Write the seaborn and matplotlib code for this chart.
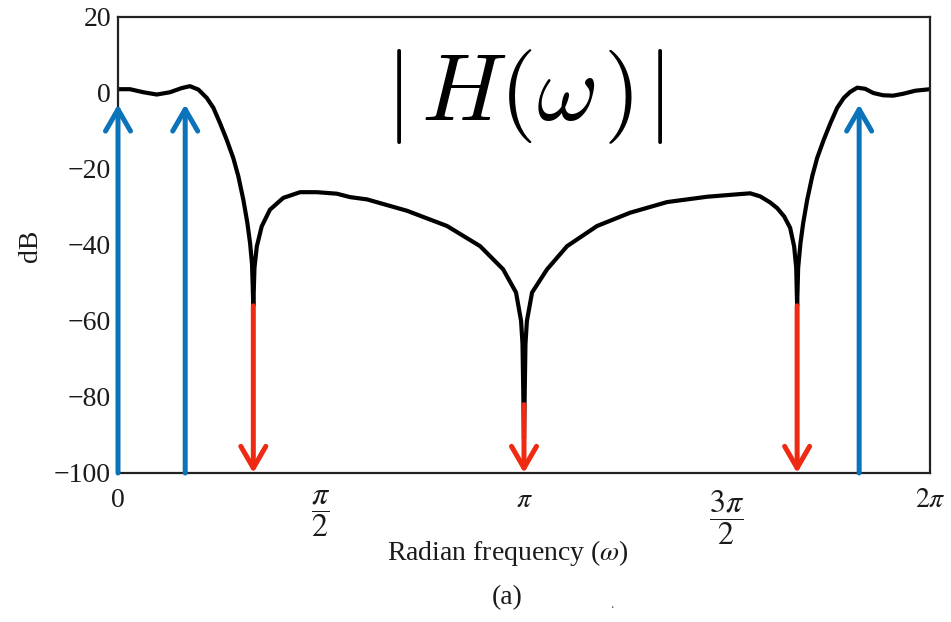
import numpy as np
import matplotlib
matplotlib.use("Agg")
import matplotlib.pyplot as plt
import seaborn as sns
import pandas as pd

# ---- data ----
omega_rad = [0.000, 0.093, 0.196, 0.300, 0.402, 0.493, 0.557, 0.622, 0.687, 0.738,
             0.789, 0.841, 0.892, 0.931, 0.970, 1.001, 1.022, 1.037, 1.047, 1.056,
             1.074, 1.112, 1.176, 1.279, 1.409, 1.538, 1.693, 1.796, 1.927, 2.237,
             2.546, 2.802, 2.980, 3.080, 3.119, 3.130, 3.1416, 3.153, 3.164, 3.204,
             3.320, 3.475, 3.707, 3.963, 4.249, 4.559, 4.814, 4.892, 4.969, 5.046,
             5.101, 5.155, 5.201, 5.232, 5.248, 5.255, 5.263, 5.281, 5.302, 5.333,
             5.372, 5.410, 5.461, 5.513, 5.565, 5.616, 5.666, 5.720, 5.782, 5.844,
             5.921, 5.998, 6.076, 6.169, 6.283]
mag_db = [1.0, 1.0, 0.2, -0.4, 0.2, 1.3, 1.8, 0.9, -1.3, -3.9,
          -7.9, -12.3, -17.1, -21.9, -28.1, -34.2, -39.5, -45.0, -56.0, -46.0,
          -40.4, -35.1, -30.7, -27.6, -26.1, -26.1, -26.5, -27.4, -28.0, -31.0,
          -35.0, -40.3, -46.4, -52.5, -60.0, -66.0, -91.0, -66.0, -60.0, -52.5,
          -46.4, -40.3, -35.0, -31.5, -28.7, -27.3, -26.6, -26.4, -27.2, -28.8,
          -30.3, -32.5, -35.5, -40.4, -46.0, -56.0, -46.0, -39.5, -34.2, -28.1,
          -21.9, -17.1, -12.3, -7.9, -3.9, -1.3, 0.3, 1.4, 1.1, 0.0,
          -0.6, -0.7, -0.2, 0.6, 1.0]

up_arrow_freqs = [0.0, 0.52, 5.735]
up_arrow_top_db = [-3.0, -3.0, -3.0]
down_arrow_freqs = [1.047, np.pi, 5.255]
down_arrow_start_db = [-56.0, -82.0, -56.0]

x_ticks = [0, np.pi / 2, np.pi, 3 * np.pi / 2, 2 * np.pi]
x_tick_labels = ["0", r"$\dfrac{\pi}{2}$", r"$\pi$", r"$\dfrac{3\pi}{2}$", r"$2\pi$"]
y_ticks = [-100, -80, -60, -40, -20, 0, 20]

df = pd.DataFrame({"omega": omega_rad, "db": mag_db})

sns.set_theme(style="white")
plt.rcParams["font.family"] = ["Liberation Serif", "DejaVu Serif"]
plt.rcParams["mathtext.fontset"] = "stix"

fig = plt.figure(figsize=(9.51, 6.22), dpi=100)
ax = fig.add_axes([118 / 951, 1 - 473 / 622, (930 - 118) / 951, (473 - 17) / 622])

sns.lineplot(data=df, x="omega", y="db", ax=ax, color="black", lw=3.0,
             sort=False, estimator=None)

blue = "#0A73BA"
red = "#EE2A12"
style = "->,head_length=1.3,head_width=0.75"
for f, top in zip(up_arrow_freqs, up_arrow_top_db):
    ax.annotate("", xy=(f, top), xytext=(f, -100),
                arrowprops=dict(arrowstyle=style, color=blue, lw=3.6,
                                shrinkA=0, shrinkB=0),
                annotation_clip=False, zorder=5)
for f, start in zip(down_arrow_freqs, down_arrow_start_db):
    ax.annotate("", xy=(f, -100), xytext=(f, start),
                arrowprops=dict(arrowstyle=style, color=red, lw=3.6,
                                shrinkA=0, shrinkB=0),
                annotation_clip=False, zorder=5)

ax.set_xlim(0, 2 * np.pi)
ax.set_ylim(-100, 20)
ax.set_xticks(x_ticks)
ax.set_xticklabels(x_tick_labels)
ax.set_yticks(y_ticks)
ax.tick_params(axis="both", direction="in", length=13, width=1.5, color="#222222",
               labelsize=20, labelcolor="#1a1a1a")
ax.tick_params(axis="y", pad=5)
ax.tick_params(axis="x", pad=11)
for lbl in ax.get_xticklabels():
    if "frac" in lbl.get_text():
        lbl.set_fontsize(23)
for s in ax.spines.values():
    s.set_color("#222222")
    s.set_linewidth(1.6)
ax.set_xlabel("")
ax.set_ylabel("")

ax.text(np.pi, -0.8, r"$|\hspace{0.12}H(\omega\hspace{0.1})\hspace{0.08}|$",
        ha="center", va="center", fontsize=68, math_fontfamily="cm", color="black")

fig.text(30 / 951, 1 - 246 / 622, "dB", rotation=90, ha="center", va="center",
         fontsize=20, color="#1a1a1a")
fig.text(508 / 951, 1 - 553 / 622, r"Radian frequency ($\omega$)", ha="center",
         va="center", fontsize=20, color="#1a1a1a")
fig.text(507 / 951, 1 - 598 / 622, "(a)", ha="center", va="center",
         fontsize=20, color="#1a1a1a")
fig.text(612 / 951, 1 - 604 / 622, ".", ha="center", va="center",
         fontsize=10, color="#555555")

fig.savefig("out.png", dpi=100)
